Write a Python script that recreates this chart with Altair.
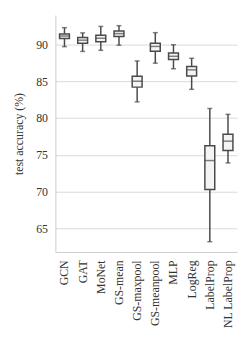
import altair as alt
import pandas as pd

models = ["GCN", "GAT", "MoNet", "GS-mean", "GS-maxpool", "GS-meanpool",
          "MLP", "LogReg", "LabelProp", "NL LabelProp"]
whisker_low = [89.7, 89.05, 89.2, 89.9, 82.2, 87.45, 86.7, 83.9, 63.2, 73.9]
q1 = [90.8, 90.17, 90.36, 91.07, 84.2, 89.06, 87.95, 85.7, 70.3, 75.6]
median = [91.14, 90.58, 90.84, 91.47, 85.0, 89.73, 88.39, 86.55, 74.22, 76.86]
q3 = [91.43, 90.94, 91.25, 91.83, 85.67, 90.17, 88.83, 87.0, 76.23, 77.8]
whisker_high = [92.28, 91.57, 92.45, 92.55, 87.76, 91.6, 89.96, 88.12, 81.3, 80.5]

df = pd.DataFrame({"model": models, "lo": whisker_low, "q1": q1, "med": median,
                   "q3": q3, "hi": whisker_high})

serif = "Liberation Serif"
edge = "#4a4a4a"

x = alt.X("model:N", sort=models, title=None,
          scale=alt.Scale(paddingInner=0, paddingOuter=0),
          axis=alt.Axis(labelAngle=-90, labelFont=serif, labelFontSize=12,
                        labelColor="#333", ticks=False, domainColor="#cccccc",
                        labelPadding=8, grid=False))
yscale = alt.Scale(domain=[61.8, 94.0], nice=False, zero=False)
y_axis = alt.Axis(values=[65, 70, 75, 80, 85, 90], title="test accuracy (%)",
                  titleFont=serif, titleFontWeight="normal", titleFontSize=12,
                  titleColor="#333", labelFont=serif, labelFontSize=12,
                  labelColor="#333", ticks=False, domainColor="#cccccc",
                  gridColor="#d9d9d9", labelPadding=8, titlePadding=10)

base = alt.Chart(df).encode(x=x)

whisk = base.mark_rule(color=edge, strokeWidth=1.5).encode(
    y=alt.Y("lo:Q", scale=yscale, axis=y_axis), y2="hi:Q")
cap_lo = base.mark_tick(color=edge, size=5, thickness=1.5).encode(y="lo:Q")
cap_hi = base.mark_tick(color=edge, size=5, thickness=1.5).encode(y="hi:Q")
box = base.mark_bar(size=10, fill="#f4f4f4", stroke=edge, strokeWidth=1.5).encode(
    y="q1:Q", y2="q3:Q")
med = base.mark_tick(color=edge, size=10, thickness=1.5).encode(y="med:Q")

chart = alt.layer(whisk, cap_lo, cap_hi, box, med).properties(
    width=184, height=240, background="white"
).configure_view(stroke=None)

chart.save("out.html", embed_options={"renderer": "svg", "actions": False})
